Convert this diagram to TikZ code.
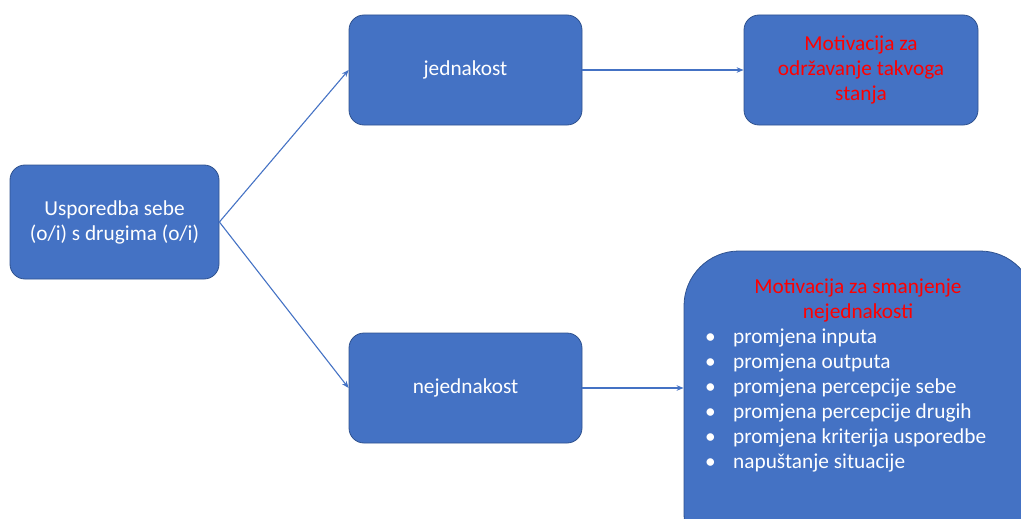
\documentclass[tikz,border=0pt]{standalone}
\usepackage{fontspec}
\setmainfont{Carlito}
\usetikzlibrary{arrows.meta, calc, positioning}
\definecolor{boxblue}{HTML}{4472C4}
\definecolor{boxline}{HTML}{2F528F}
\definecolor{motred}{HTML}{FF0000}

\begin{document}
\begin{tikzpicture}[x=1pt,y=-1pt,
	box/.style={draw=boxline, fill=boxblue, line width=0.8pt, rounded corners=15pt,
		text=white, align=center, inner sep=0pt, font=\fontsize{21.3}{25}\selectfont},
	link/.style={draw=boxblue, line width=1.1pt, -{Stealth[length=7pt,width=5.5pt]}}]
	\useasboundingbox (0,0) rectangle (1021,519);
	\clip (0,0) rectangle (1021,519);

	\coordinate (S)  at (114.5,222);
	\coordinate (J)  at (465.5,70);
	\coordinate (N)  at (465.5,388);
	\coordinate (M)  at (861,70);
	\coordinate (MS) at (859.5,410);

	\node[box, minimum width=209pt, minimum height=114pt] (usp) at (S) {Usporedba sebe\\(o/i) s drugima (o/i)};
	\node[box, minimum width=233pt, minimum height=110pt] (jed) at (J) {jednakost};
	\node[box, minimum width=233pt, minimum height=110pt] (nejed) at (N) {nejednakost};
	\node[box, minimum width=234pt, minimum height=110pt, text=motred] (odrz) at (M) {Motivacija za\\održavanje takvoga\\stanja};
	\node[box, minimum width=351pt, minimum height=318pt, rounded corners=55pt] (smanj) at (MS) {};

	% text in the big box
	\node[anchor=base, text=motred, align=center, inner sep=0pt,
		font=\fontsize{21.3}{25}\selectfont] (smanjtitle) at (858,318) {Motivacija za smanjenje\\nejednakosti};
	\node[anchor=base west, text=white, align=left, inner sep=0pt,
		font=\fontsize{21.3}{25}\selectfont] (smanjlist) at (705,468)
		{\makebox[28pt][l]{\textbullet}promjena inputa\\
		 \makebox[28pt][l]{\textbullet}promjena outputa\\
		 \makebox[28pt][l]{\textbullet}promjena percepcije sebe\\
		 \makebox[28pt][l]{\textbullet}promjena percepcije drugih\\
		 \makebox[28pt][l]{\textbullet}promjena kriterija usporedbe\\
		 \makebox[28pt][l]{\textbullet}napuštanje situacije};

	\draw[link] (usp.east) -- (jed.west);
	\draw[link] (usp.east) -- (nejed.west);
	\draw[link] (jed.east) -- (odrz.west);
	\draw[link] (nejed.east) -- (nejed.east -| smanj.west);
\end{tikzpicture}
\end{document}
